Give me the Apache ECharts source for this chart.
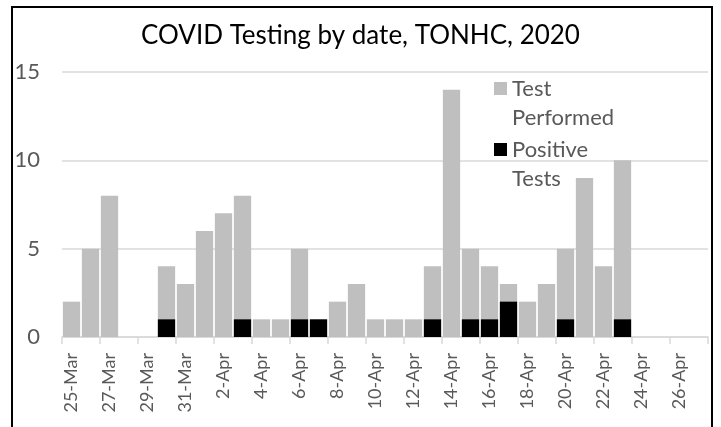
<!DOCTYPE html>
<html>
<head>
<meta charset="utf-8">
<script src="https://cdn.jsdelivr.net/npm/echarts@6/dist/echarts.min.js"></script>
<style>
  html, body { margin: 0; padding: 0; background: #fff; }
  #main { width: 721px; height: 427px; }
</style>
</head>
<body>
<div id="main"></div>
<script>
const dates = [
  '25-Mar', '26-Mar', '27-Mar', '28-Mar', '29-Mar', '30-Mar', '31-Mar',
  '1-Apr', '2-Apr', '3-Apr', '4-Apr', '5-Apr', '6-Apr', '7-Apr', '8-Apr',
  '9-Apr', '10-Apr', '11-Apr', '12-Apr', '13-Apr', '14-Apr', '15-Apr',
  '16-Apr', '17-Apr', '18-Apr', '19-Apr', '20-Apr', '21-Apr', '22-Apr',
  '23-Apr', '24-Apr', '25-Apr', '26-Apr', '27-Apr'
]
const testsPerformed = [
  2, 5, 8, 0, 0, 4, 3, 6, 7, 8, 1, 1, 5, 1, 2, 3, 1, 1, 1, 4, 14, 5,
  4, 3, 2, 3, 5, 9, 4, 10, 0, 0, 0, 0
]
const positiveTests = [
  0, 0, 0, 0, 0, 1, 0, 0, 0, 1, 0, 0, 1, 1, 0, 0, 0, 0, 0, 1, 0, 1,
  1, 2, 0, 0, 1, 0, 0, 1, 0, 0, 0, 0
]

const font = 'Lato, "Noto Sans", sans-serif'
const chart = echarts.init(document.getElementById('main'))
const option = {
  animation: false,
  textStyle: { fontFamily: font },
  title: {
    text: 'COVID Testing by date, TONHC, 2020',
    left: 'center',
    top: 18,
    textStyle: { fontFamily: font, fontSize: 26, fontWeight: 'normal', color: '#000' }
  },
  graphic: [{
    type: 'rect',
    shape: { x: 12, y: 7, width: 700, height: 440 },
    style: { fill: 'none', stroke: '#000', lineWidth: 2 },
    silent: true
  }],
  legend: {
    orient: 'vertical',
    left: 489,
    top: 40,
    itemWidth: 13,
    itemHeight: 13,
    itemGap: -26,
    icon: 'rect',
    // blank first line keeps the swatch level with the first word
    formatter: name => '\n' + name.replace(' ', '\n'),
    textStyle: { fontFamily: font, fontSize: 22, color: '#595959', lineHeight: 29 },
    data: ['Test Performed', 'Positive Tests']
  },
  grid: { left: 62, right: 13, top: 72, bottom: 90, containLabel: false },
  xAxis: {
    type: 'category',
    data: dates,
    axisLine: { lineStyle: { color: '#d9d9d9', width: 1.5 } },
    axisTick: { show: true, interval: 1, length: 7, lineStyle: { color: '#d9d9d9', width: 1.5 } },
    axisLabel: { interval: 1, rotate: 90, color: '#595959', fontSize: 18, margin: 16 }
  },
  yAxis: {
    type: 'value',
    min: 0,
    max: 15,
    interval: 5,
    axisLine: { show: false },
    axisTick: { show: false },
    splitLine: { lineStyle: { color: '#d9d9d9', width: 1.5 } },
    axisLabel: { color: '#595959', fontSize: 22, margin: 22 }
  },
  series: [
    {
      name: 'Test Performed',
      type: 'bar',
      data: testsPerformed,
      itemStyle: { color: '#bfbfbf' },
      barCategoryGap: '9%'
    },
    {
      name: 'Positive Tests',
      type: 'bar',
      data: positiveTests,
      itemStyle: { color: '#000000' },
      barGap: '-100%'
    }
  ]
}
chart.setOption(option)
</script>
</body>
</html>
